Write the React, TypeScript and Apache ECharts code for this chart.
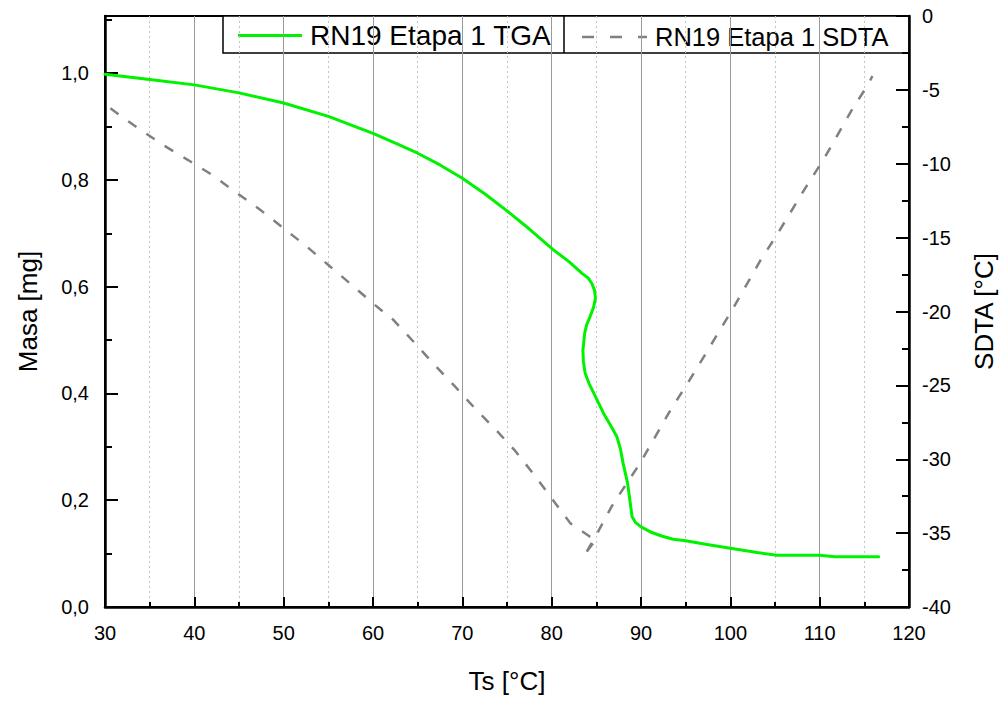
import React, { useEffect, useRef } from "react";
import * as echarts from "echarts";

// TGA series (Ts [°C], Masa [mg])
const tgaTs = [30, 35.0, 40.0, 45.0, 50.0, 55.0, 60.0, 62.5, 65.0, 67.5, 70.0, 72.5, 75.0, 77.5, 80.2, 82.0, 83.4, 84.1, 84.5, 84.8, 84.9, 84.7, 84.3, 83.9, 83.7, 83.5, 83.55, 83.75, 84.2, 84.7, 85.8, 86.7, 87.3, 87.7, 88.0, 88.5, 89.0, 89.4, 90.0, 90.7, 91.0, 92.3, 93.6, 95.0, 97.4, 100.0, 103.0, 105.2, 110.0, 111.7, 116.6];
const tgaMass = [0.998, 0.988, 0.978, 0.963, 0.944, 0.919, 0.887, 0.869, 0.850, 0.828, 0.803, 0.774, 0.742, 0.708, 0.669, 0.646, 0.625, 0.616, 0.606, 0.593, 0.578, 0.562, 0.544, 0.528, 0.513, 0.481, 0.460, 0.438, 0.418, 0.401, 0.363, 0.337, 0.319, 0.296, 0.269, 0.232, 0.169, 0.158, 0.150, 0.144, 0.141, 0.133, 0.127, 0.124, 0.117, 0.110, 0.102, 0.097, 0.097, 0.094, 0.094];

// SDTA series (Ts [°C], SDTA [°C])
const sdtaTs = [30.6, 33.2, 36.5, 39.3, 42.0, 44.8, 47.4, 50.0, 52.6, 55.0, 57.4, 60.0, 62.3, 64.7, 67.0, 69.2, 71.4, 73.7, 75.9, 78.0, 80.0, 82.1, 84.3, 85.0, 84.0, 83.6, 85.2, 86.7, 88.4, 89.9, 91.6, 93.3, 95.1, 96.8, 100.2, 103.4, 105.2, 108.6, 110.4, 113.6, 115.5, 115.9];
const sdtaVal = [-6.25, -7.38, -8.73, -9.75, -10.76, -12.0, -13.13, -14.37, -15.61, -16.85, -18.09, -19.45, -20.58, -22.15, -23.69, -25.09, -26.55, -27.97, -29.42, -31.02, -32.64, -34.34, -35.24, -35.4, -36.2, -36.6, -34.9, -33.21, -31.63, -30.27, -28.47, -26.67, -24.97, -23.29, -19.9, -16.51, -14.82, -11.44, -9.75, -6.36, -4.56, -4.06];

const xTicks = { min: 30, max: 120, interval: 10 };
const leftAxis = { min: 0, max: 1.107, interval: 0.2 };
const rightAxis = { min: -40, max: 0, interval: 5 };

const seriesNames = ["RN19 Etapa 1 TGA", "RN19 Etapa 1 SDTA"];
const axisNames = { x: "Ts [°C]", left: "Masa [mg]", right: "SDTA [°C]" };

const FONT = "Liberation Sans, Arial, sans-serif";
const GREEN = "#00f200";

export default function App() {
  const ref = useRef<HTMLDivElement>(null);

  useEffect(() => {
    if (!ref.current) return;
    const chart = echarts.init(ref.current, null, { renderer: "svg" });

    const tgaData = tgaTs.map((t, i) => [t, tgaMass[i]]);
    const sdtaData = sdtaTs.map((t, i) => [t, sdtaVal[i]]);

    const GL = 105, GT = 16, GW = 804, GH = 591;

    const option: any = {
      animation: false,
      backgroundColor: "#fff",
      grid: {
        left: GL,
        top: GT,
        width: GW,
        height: GH,
        show: true,
        borderColor: "#000",
        borderWidth: 2,
        backgroundColor: "transparent",
      },
      xAxis: {
        type: "value",
        min: xTicks.min,
        max: xTicks.max,
        interval: xTicks.interval,
        name: axisNames.x,
        nameLocation: "middle",
        nameGap: 61,
        nameTextStyle: { fontFamily: FONT, fontSize: 26, color: "#000" },
        axisLine: { show: true, onZero: false, lineStyle: { color: "#000", width: 2.5 } },
        axisTick: { show: true, inside: true, length: 10, lineStyle: { color: "#000", width: 2 } },
        minorTick: { show: true, splitNumber: 2, length: 5, lineStyle: { color: "#000", width: 2 } },
        axisLabel: { fontFamily: FONT, fontSize: 20, color: "#000", margin: 16 },
        splitLine: { show: true, lineStyle: { color: "#9a9a9a", width: 1 } },
        minorSplitLine: { show: true, lineStyle: { color: "#c4c4c4", width: 1, type: [2, 3] } },
      },
      yAxis: [
        {
          type: "value",
          position: "left",
          min: leftAxis.min,
          max: leftAxis.max,
          interval: leftAxis.interval,
          name: axisNames.left,
          nameLocation: "middle",
          nameGap: 64,
          nameTextStyle: { fontFamily: FONT, fontSize: 26, color: "#000" },
          axisLine: { show: true, onZero: false, lineStyle: { color: "#000", width: 2.5 } },
          axisTick: { show: true, inside: true, length: 13, lineStyle: { color: "#000", width: 2 } },
          axisLabel: {
            fontFamily: FONT,
            fontSize: 20,
            color: "#000",
            margin: 16,
            formatter: (v: number) => {
              const r = Math.round(v / leftAxis.interval) * leftAxis.interval;
              if (Math.abs(r - v) > 1e-6) return "";
              return v.toFixed(1).replace(".", ",");
            },
          },
          splitLine: { show: false },
        },
        {
          type: "value",
          position: "right",
          min: rightAxis.min,
          max: rightAxis.max,
          interval: rightAxis.interval,
          name: axisNames.right,
          nameLocation: "middle",
          nameGap: 62,
          nameTextStyle: { fontFamily: FONT, fontSize: 26, color: "#000" },
          axisLine: { show: true, onZero: false, lineStyle: { color: "#000", width: 2.5 } },
          axisTick: { show: true, inside: true, length: 13, lineStyle: { color: "#000", width: 2 } },
          minorTick: { show: true, splitNumber: 2, length: 7, lineStyle: { color: "#000", width: 2 } },
          axisLabel: { fontFamily: FONT, fontSize: 20, color: "#000", margin: 13 },
          splitLine: { show: false },
        },
        {
          type: "value",
          position: "left",
          min: leftAxis.min,
          max: leftAxis.max,
          interval: leftAxis.interval / 2,
          axisLine: { show: false, onZero: false },
          axisTick: { show: true, inside: true, length: 7, lineStyle: { color: "#000", width: 2 } },
          axisLabel: { show: false },
          splitLine: { show: false },
        },
      ],
      series: [
        {
          name: seriesNames[0],
          type: "line",
          xAxisIndex: 0,
          yAxisIndex: 0,
          data: tgaData,
          showSymbol: false,
          symbol: "none",
          smooth: false,
          lineStyle: { color: GREEN, width: 3, join: "round", cap: "round" },
          z: 3,
        },
        {
          name: seriesNames[1],
          type: "line",
          xAxisIndex: 0,
          yAxisIndex: 1,
          data: sdtaData,
          showSymbol: false,
          symbol: "none",
          smooth: false,
          lineStyle: { color: "#808080", width: 2.5, type: [10, 12] },
          z: 2,
        },
      ],
      graphic: [
        {
          type: "group",
          z: 100,
          children: [
            {
              type: "rect",
              shape: { x: 223, y: 16, width: 686, height: 37 },
              style: { fill: "#fff", stroke: "#000", lineWidth: 1.5 },
            },
            {
              type: "line",
              shape: { x1: 564, y1: 16, x2: 564, y2: 53 },
              style: { stroke: "#000", lineWidth: 1.5 },
            },
            {
              type: "line",
              shape: { x1: 238, y1: 35.5, x2: 302, y2: 35.5 },
              style: { stroke: GREEN, lineWidth: 3 },
            },
            {
              type: "text",
              x: 310,
              y: 35.5,
              style: {
                text: seriesNames[0],
                fontFamily: FONT,
                fontSize: 28,
                fill: "#000",
                verticalAlign: "middle",
                align: "left",
              },
            },
            {
              type: "line",
              shape: { x1: 582, y1: 37, x2: 647, y2: 37 },
              style: { stroke: "#808080", lineWidth: 2.5, lineDash: [12, 16] },
            },
            {
              type: "text",
              x: 655,
              y: 36.5,
              style: {
                text: seriesNames[1],
                fontFamily: FONT,
                fontSize: 25.5,
                fill: "#000",
                verticalAlign: "middle",
                align: "left",
              },
            },
          ],
        },
      ],
    };

    chart.setOption(option);
    return () => chart.dispose();
  }, []);

  return (
    <div
      ref={ref}
      style={{ position: "fixed", left: 0, top: 0, width: 1007, height: 704, background: "#fff" }}
    />
  );
}
